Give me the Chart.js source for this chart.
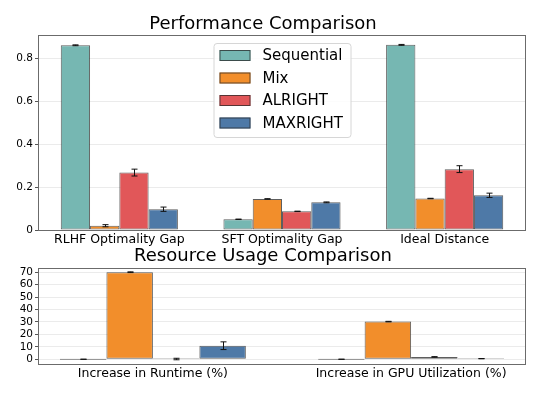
<!DOCTYPE html>
<html>
<head>
<meta charset="utf-8">
<script src="https://cdn.jsdelivr.net/npm/chart.js@4/dist/chart.umd.min.js"></script>
<style>
  body { margin: 0; background: #fff; }
  #wrap { position: relative; width: 544px; height: 399px; }
  canvas { position: absolute; left: 0; }
  #perfChart { top: 0; }
  #usageChart { top: 246px; }
</style>
</head>
<body>
<div id="wrap">
<canvas id="perfChart" width="544" height="260"></canvas>
<canvas id="usageChart" width="544" height="153"></canvas>
</div>
<script>
// series
const seriesNames = ["Sequential", "Mix", "ALRIGHT", "MAXRIGHT"];
const seriesColors = ["#76b7b2", "#f28e2b", "#e15759", "#4e79a7"];

// top chart: performance
const perfLabels = ["RLHF Optimality Gap", "SFT Optimality Gap", "Ideal Distance"];
const seqPerf = [0.862, 0.05, 0.864];
const seqPerfErr = [0.002, 0.001, 0.002];
const mixPerf = [0.02, 0.145, 0.147];
const mixPerfErr = [0.005, 0.001, 0.001];
const alrightPerf = [0.268, 0.087, 0.284];
const alrightPerfErr = [0.016, 0.001, 0.016];
const maxrightPerf = [0.097, 0.129, 0.162];
const maxrightPerfErr = [0.01, 0.002, 0.01];
const perfTicks = [0, 0.2, 0.4, 0.6, 0.8];

// bottom chart: resource usage
const usageLabels = ["Increase in Runtime (%)", "Increase in GPU Utilization (%)"];
const seqUsage = [0, 0];
const seqUsageErr = [0, 0];
const mixUsage = [70, 30.3];
const mixUsageErr = [0.3, 0.2];
const alrightUsage = [0.2, 1.9];
const alrightUsageErr = [0.6, 0.2];
const maxrightUsage = [10.9, 0.5];
const maxrightUsageErr = [3.1, 0.1];
const usageTicks = [0, 10, 20, 30, 40, 50, 60, 70];

const FONT = "'DejaVu Sans', sans-serif";

const errorBars = {
  id: "errorBars",
  afterDatasetsDraw(chart) {
    const ctx = chart.ctx;
    const y = chart.scales.y;
    ctx.save();
    ctx.strokeStyle = "#111";
    ctx.lineWidth = 1;
    chart.data.datasets.forEach((ds, i) => {
      chart.getDatasetMeta(i).data.forEach((bar, j) => {
        const v = ds.vals[j], e = ds.errs[j];
        const x = Math.round(bar.x) + 0.5;
        const y1 = y.getPixelForValue(v + e), y2 = y.getPixelForValue(v - e);
        ctx.beginPath();
        ctx.moveTo(x, y1); ctx.lineTo(x, y2);
        ctx.moveTo(x - 3, y1); ctx.lineTo(x + 3, y1);
        ctx.moveTo(x - 3, y2); ctx.lineTo(x + 3, y2);
        ctx.stroke();
      });
    });
    ctx.restore();
  }
};

const frame = {
  id: "frame",
  afterDraw(chart) {
    const a = chart.chartArea, ctx = chart.ctx;
    ctx.save();
    ctx.strokeStyle = "#6b6b6b";
    ctx.lineWidth = 1;
    ctx.strokeRect(Math.round(a.left) + 0.5, Math.round(a.top) + 0.5,
      Math.round(a.right - a.left) - 1, Math.round(a.bottom - a.top));
    ctx.restore();
  }
};

const boxLegend = {
  id: "boxLegend",
  afterDraw(chart) {
    const ctx = chart.ctx, a = chart.chartArea;
    const w = 137, h = 94;
    const x0 = (a.left + a.right) / 2 - w / 2, y0 = a.top + 8;
    ctx.save();
    ctx.fillStyle = "rgba(255,255,255,0.85)";
    ctx.strokeStyle = "#d6d6d6";
    ctx.beginPath();
    ctx.roundRect(x0 + 0.5, y0 + 0.5, w, h, 3);
    ctx.fill();
    ctx.stroke();
    ctx.font = "15px " + FONT;
    ctx.textBaseline = "middle";
    chart.data.datasets.forEach((ds, i) => {
      const cy = y0 + 12.5 + i * 22.5;
      ctx.fillStyle = ds.backgroundColor;
      ctx.fillRect(x0 + 6, cy - 5.5, 31, 11);
      ctx.strokeStyle = "rgba(40,40,40,0.75)";
      ctx.strokeRect(x0 + 6.5, cy - 5, 30, 10);
      ctx.fillStyle = "#000";
      ctx.fillText(ds.label, x0 + 49, cy + 1);
    });
    ctx.restore();
  }
};

function makeDatasets(vals, errs, asPoints) {
  return seriesNames.map((name, i) => ({
    label: name,
    data: asPoints ? vals[i].map((v, j) => ({ x: j, y: v })) : vals[i],
    vals: vals[i],
    errs: errs[i],
    backgroundColor: seriesColors[i],
    borderColor: "rgba(40,40,40,0.75)",
    borderWidth: 1,
    borderSkipped: false,
    minBarLength: 1,
    categoryPercentage: 0.72,
    barPercentage: 1
  }));
}

function yAxis(min, max, tickVals) {
  return {
    min: min,
    max: max,
    afterBuildTicks: (s) => { s.ticks = tickVals.map((v) => ({ value: v })); },
    afterFit: (s) => { s.width = 38; },
    border: { display: false },
    grid: { color: "#ebebeb", tickColor: "#555", tickLength: 3, drawTicks: true },
    ticks: { color: "#000", padding: 2, autoSkip: false, font: { family: FONT, size: 10.5 } }
  };
}

new Chart(document.getElementById("perfChart"), {
  type: "bar",
  data: {
    labels: perfLabels,
    datasets: makeDatasets(
      [seqPerf, mixPerf, alrightPerf, maxrightPerf],
      [seqPerfErr, mixPerfErr, alrightPerfErr, maxrightPerfErr], false)
  },
  options: {
    responsive: false,
    animation: false,
    layout: { padding: { left: 0, right: 18, top: 0, bottom: 0 } },
    plugins: {
      legend: { display: false },
      tooltip: { enabled: false },
      title: {
        display: true,
        text: "Performance Comparison",
        color: "#000",
        font: { family: FONT, size: 18, weight: "normal" },
        padding: { top: 13.4, bottom: 0 }
      }
    },
    scales: {
      x: {
        afterFit: (s) => { s.height = 30; },
        border: { display: false },
        grid: { display: false, drawTicks: false },
        ticks: { color: "#000", padding: 2, maxRotation: 0, font: { family: FONT, size: 12.5 } }
      },
      y: yAxis(0, 0.91, perfTicks)
    }
  },
  plugins: [errorBars, frame, boxLegend]
});

new Chart(document.getElementById("usageChart"), {
  type: "bar",
  data: {
    datasets: makeDatasets(
      [seqUsage, mixUsage, alrightUsage, maxrightUsage],
      [seqUsageErr, mixUsageErr, alrightUsageErr, maxrightUsageErr], true)
  },
  options: {
    responsive: false,
    animation: false,
    layout: { padding: { left: 0, right: 18, top: 0, bottom: 0 } },
    plugins: {
      legend: { display: false },
      tooltip: { enabled: false },
      title: {
        display: true,
        text: "Resource Usage Comparison",
        color: "#000",
        font: { family: FONT, size: 18, weight: "normal" },
        padding: { top: 0, bottom: 0 }
      }
    },
    scales: {
      x: {
        type: "linear",
        offset: false,
        min: -0.445,
        max: 1.445,
        afterBuildTicks: (s) => { s.ticks = usageLabels.map((_, i) => ({ value: i })); },
        afterFit: (s) => { s.height = 35; },
        border: { display: false },
        grid: { display: false, drawTicks: false },
        ticks: {
          color: "#000", padding: 2, maxRotation: 0, autoSkip: false,
          font: { family: FONT, size: 12.5 },
          callback: (v) => usageLabels[v]
        }
      },
      y: yAxis(-3.8, 73.7, usageTicks)
    }
  },
  plugins: [errorBars, frame]
});
</script>
</body>
</html>
